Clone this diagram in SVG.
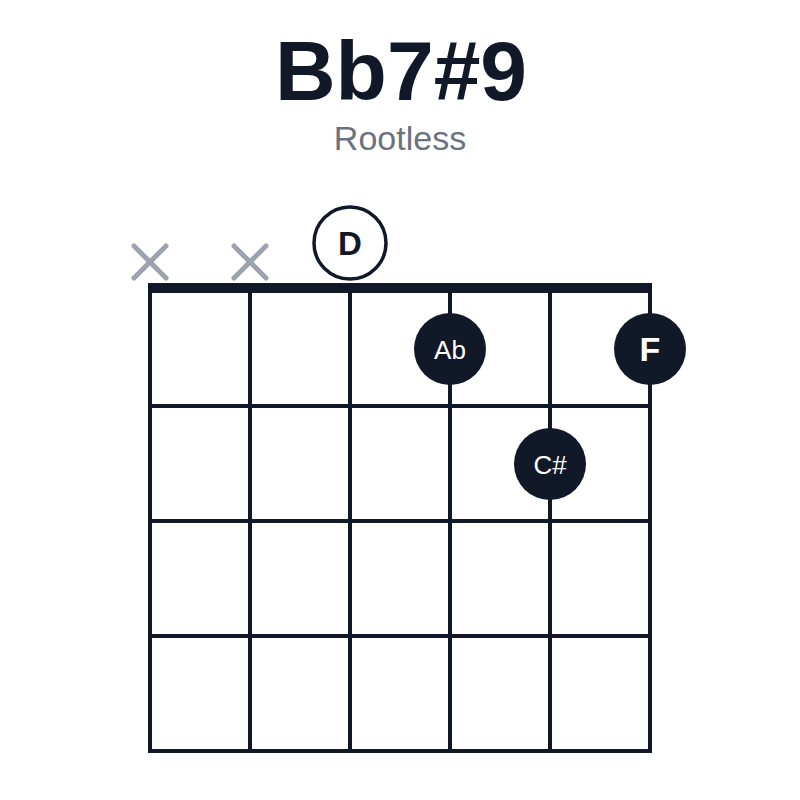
<svg xmlns="http://www.w3.org/2000/svg" width="800" height="800" viewBox="0 0 800 800">
<style>
.grid{stroke:#111827;stroke-width:4;fill:none;stroke-linecap:square}
.x{stroke:#9ca3af;stroke-width:5;stroke-linecap:round}
.note{fill:#111827}
.lbl{fill:#ffffff;font-family:"Liberation Sans",Arial,sans-serif;text-anchor:middle}
</style>
<rect width="800" height="800" fill="#ffffff"/>
<g id="title">
<text x="401" y="100" font-family="Liberation Sans,Arial,sans-serif" font-weight="bold" font-size="84" fill="#111827" text-anchor="middle">Bb7#9</text>
<text x="400" y="150" font-family="Liberation Sans,Arial,sans-serif" font-size="34" fill="#6b7280" text-anchor="middle">Rootless</text>
</g>
<g id="fretboard">
<g class="grid">
<line x1="150" y1="288" x2="150" y2="751"/>
<line x1="250" y1="288" x2="250" y2="751"/>
<line x1="350" y1="288" x2="350" y2="751"/>
<line x1="450" y1="288" x2="450" y2="751"/>
<line x1="550" y1="288" x2="550" y2="751"/>
<line x1="650" y1="288" x2="650" y2="751"/>
<line x1="150" y1="406" x2="650" y2="406"/>
<line x1="150" y1="521" x2="650" y2="521"/>
<line x1="150" y1="636" x2="650" y2="636"/>
<line x1="150" y1="751" x2="650" y2="751"/>
</g>
<rect id="nut" x="148" y="283" width="504" height="10" fill="#111827"/>
</g>
<g id="mute-1"><line class="x" x1="134" y1="246" x2="166" y2="278"/><line class="x" x1="166" y1="246" x2="134" y2="278"/></g>
<g id="mute-2"><line class="x" x1="234" y1="246" x2="266" y2="278"/><line class="x" x1="266" y1="246" x2="234" y2="278"/></g>
<g id="open-D">
<circle cx="350" cy="243" r="36" fill="#ffffff" stroke="#111827" stroke-width="3.5"/>
<text x="350" y="255" font-family="Liberation Sans,Arial,sans-serif" font-size="33" font-weight="bold" fill="#111827" text-anchor="middle">D</text>
</g>
<g id="note-Ab">
<circle class="note" cx="450" cy="349" r="36"/>
<text class="lbl" x="450" y="359" font-size="26">Ab</text>
</g>
<g id="note-F">
<circle class="note" cx="650" cy="349" r="36"/>
<text class="lbl" x="650" y="361" font-size="34" font-weight="bold">F</text>
</g>
<g id="note-Cs">
<circle class="note" cx="550" cy="464" r="36"/>
<text class="lbl" x="550" y="474" font-size="26">C#</text>
</g>
</svg>
